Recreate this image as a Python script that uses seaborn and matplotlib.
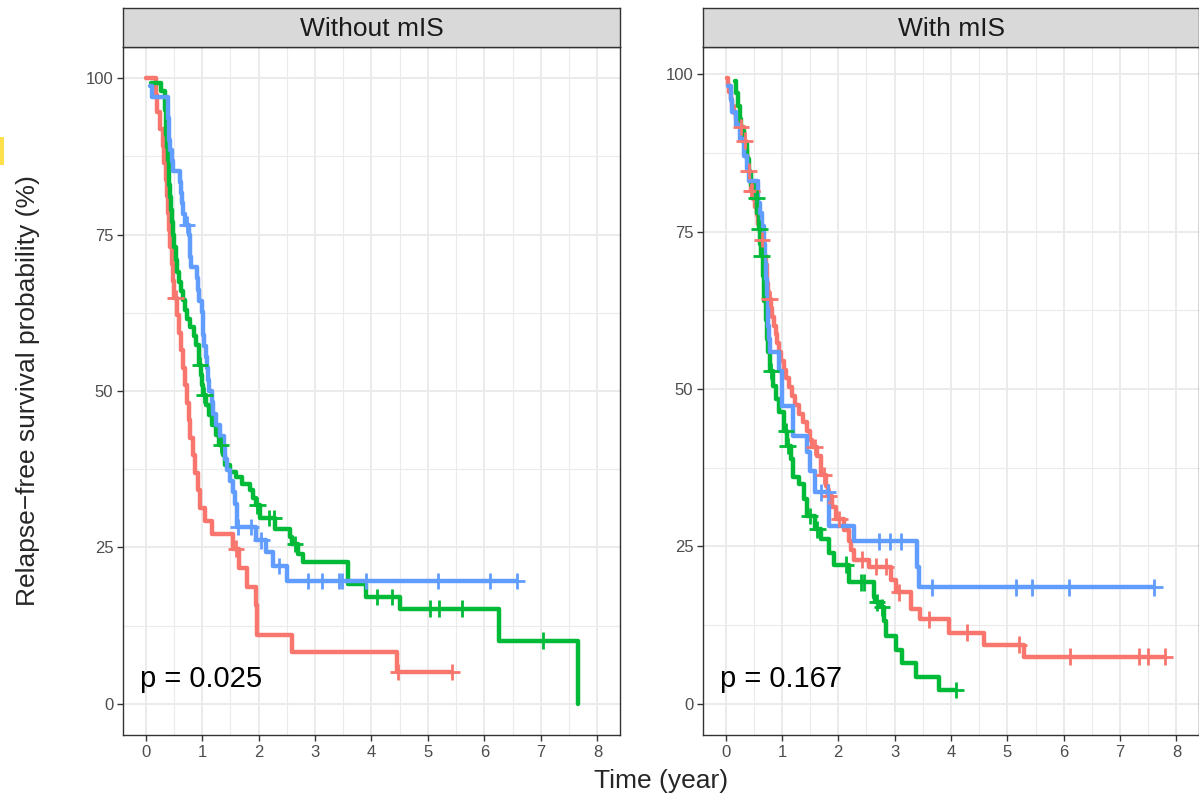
import numpy as np
import pandas as pd
import matplotlib
matplotlib.use("Agg")
import matplotlib.pyplot as plt
from matplotlib.patches import Rectangle
from matplotlib.ticker import MultipleLocator
import seaborn as sns

# ---------------------------------------------------------------
# Kaplan-Meier step data (time in years, survival in %)
# ---------------------------------------------------------------
groups = ["Group 1", "Group 2", "Group 3"]
colors = ["#F8766D", "#00BA38", "#619CFF"]
panel_titles = ["Without mIS", "With mIS"]
p_values = ["p = 0.025", "p = 0.167"]

# --- Without mIS ---
wo_g1_time = [0.00, 0.19, 0.21, 0.25, 0.30, 0.33, 0.36, 0.38, 0.40, 0.42, 0.44, 0.46, 0.48,
              0.50, 0.55, 0.59, 0.62, 0.66, 0.70, 0.73, 0.76, 0.79, 0.84, 0.88, 0.93, 0.97,
              1.05, 1.17, 1.54, 1.66, 1.80, 1.95, 1.98, 2.60, 4.45, 5.43]
wo_g1_surv = [100.0, 97.3, 94.6, 91.9, 89.2, 86.5, 83.8, 81.1, 78.4, 75.7, 73.0, 70.3, 67.6,
              64.9, 62.1, 59.3, 56.5, 53.7, 50.9, 48.1, 45.3, 42.5, 39.7, 36.9, 34.1, 31.3,
              29.2, 27.1, 24.8, 21.7, 18.6, 15.8, 11.0, 8.2, 5.1, 5.1]
wo_g1_cens = [0.53, 1.60, 4.47, 5.43]

wo_g2_time = [0.10, 0.28, 0.34, 0.35, 0.36, 0.37, 0.38, 0.40, 0.41, 0.42, 0.43, 0.45, 0.46,
              0.48, 0.50, 0.53, 0.56, 0.59, 0.62, 0.66, 0.70, 0.74, 0.79, 0.85, 0.89, 0.94,
              0.98, 1.00, 1.02, 1.07, 1.12, 1.18, 1.24, 1.30, 1.37, 1.40, 1.50, 1.60, 1.70,
              1.84, 1.90, 1.95, 2.02, 2.30, 2.55, 2.60, 2.70, 2.78, 3.58, 3.91, 4.50, 6.25,
              7.65]
wo_g2_surv = [99.2, 98.0, 97.0, 95.0, 93.0, 91.0, 89.0, 87.0, 85.0, 83.0, 81.0, 79.0, 77.0,
              75.0, 73.0, 71.0, 69.0, 67.5, 66.0, 64.5, 63.0, 61.5, 60.2, 58.8, 57.3, 54.2,
              52.6, 51.0, 49.4, 47.8, 46.2, 44.6, 43.0, 41.4, 39.8, 38.2, 37.0, 36.2, 35.2,
              34.1, 32.9, 31.7, 29.7, 27.9, 26.7, 25.5, 24.0, 22.6, 19.1, 17.1, 15.2, 10.1,
              0.0]
wo_g2_cens = [0.96, 1.04, 1.34, 1.98, 2.19, 2.27, 2.65, 4.10, 4.37, 5.03, 5.20, 5.61, 7.03]

wo_g3_time = [0.07, 0.11, 0.39, 0.40, 0.41, 0.42, 0.44, 0.46, 0.48, 0.61, 0.63, 0.65, 0.66,
              0.70, 0.77, 0.78, 0.79, 0.80, 0.91, 0.93, 0.95, 1.00, 1.01, 1.02, 1.03, 1.07,
              1.08, 1.10, 1.13, 1.17, 1.20, 1.25, 1.32, 1.38, 1.41, 1.45, 1.50, 1.55, 1.59,
              1.62, 1.96, 2.14, 2.25, 2.51, 6.57]
wo_g3_surv = [98.7, 97.0, 95.3, 93.6, 91.9, 90.2, 88.5, 86.8, 85.1, 83.4, 81.7, 80.0, 78.3,
              76.6, 74.9, 73.2, 71.5, 69.8, 68.0, 66.2, 64.4, 62.6, 60.8, 59.0, 57.2, 55.4,
              53.6, 51.8, 50.0, 48.2, 46.4, 44.6, 42.8, 41.0, 39.2, 37.4, 35.6, 33.8, 32.0,
              28.3, 26.1, 24.2, 22.0, 19.6, 19.6]
wo_g3_cens = [0.73, 1.64, 1.87, 2.05, 2.37, 2.87, 3.13, 3.42, 3.47, 3.91, 5.17, 6.09, 6.57]

# --- With mIS ---
w_g1_time = [0.02, 0.04, 0.06, 0.09, 0.12, 0.15, 0.19, 0.23, 0.32, 0.36, 0.38, 0.40, 0.43,
             0.45, 0.49, 0.52, 0.55, 0.58, 0.61, 0.63, 0.67, 0.69, 0.71, 0.73, 0.74, 0.76,
             0.77, 0.80, 0.83, 0.86, 0.89, 0.92, 0.95, 0.99, 1.03, 1.08, 1.13, 1.18, 1.24,
             1.31, 1.38, 1.45, 1.49, 1.53, 1.62, 1.70, 1.78, 1.81, 1.88, 1.96, 2.10, 2.19,
             2.23, 2.28, 2.55, 2.94, 3.02, 3.29, 3.45, 3.96, 4.58, 5.29, 7.80]
w_g1_surv = [99.4, 98.3, 97.2, 96.1, 95.0, 93.9, 92.8, 91.7, 89.5, 88.2, 86.9, 84.7, 83.5,
             81.5, 80.2, 78.9, 77.6, 76.3, 75.0, 73.7, 72.4, 71.1, 69.7, 68.3, 66.9, 65.5,
             64.3, 62.9, 61.5, 60.1, 58.7, 57.3, 55.9, 54.5, 53.1, 51.7, 50.3, 48.9, 47.5,
             46.1, 44.7, 43.3, 41.9, 40.8, 39.3, 36.3, 34.6, 33.0, 31.2, 29.4, 27.6, 25.9,
             24.4, 22.9, 21.8, 19.7, 17.7, 15.0, 13.4, 11.3, 9.4, 7.5, 7.5]
w_g1_cens = [0.27, 0.34, 0.41, 0.46, 0.47, 0.65, 0.78, 1.58, 1.75, 1.84, 2.02, 2.42, 2.67,
             2.85, 3.08, 3.61, 4.28, 5.20, 6.12, 7.33, 7.50, 7.80]

w_g2_time = [0.16, 0.19, 0.22, 0.25, 0.28, 0.33, 0.38, 0.42, 0.46, 0.52, 0.56, 0.59, 0.62,
             0.63, 0.67, 0.69, 0.71, 0.73, 0.75, 0.79, 0.85, 0.90, 0.95, 1.03, 1.09, 1.16,
             1.19, 1.31, 1.40, 1.45, 1.58, 1.70, 1.84, 1.93, 2.19, 2.64, 2.66, 2.75, 2.82,
             2.85, 3.03, 3.13, 3.38, 3.79, 4.09]
w_g2_surv = [98.9, 97.0, 95.0, 93.0, 91.0, 89.0, 86.6, 84.5, 82.5, 80.3, 78.0, 75.5, 73.0,
             71.2, 68.0, 64.0, 61.0, 58.0, 55.9, 52.9, 50.5, 48.4, 46.3, 43.3, 41.0, 38.9,
             36.0, 34.9, 32.5, 29.8, 27.7, 26.1, 24.0, 22.1, 19.3, 17.0, 16.1, 15.3, 13.1,
             10.7, 8.6, 6.5, 4.3, 2.2, 2.2]
w_g2_cens = [0.55, 0.60, 0.64, 0.81, 1.07, 1.10, 1.49, 1.63, 2.14, 2.40, 2.45, 2.69, 2.78,
             4.09]

w_g3_time = [0.05, 0.10, 0.12, 0.18, 0.26, 0.33, 0.38, 0.42, 0.57, 0.61, 0.65, 0.68, 0.70,
             0.72, 0.74, 0.75, 0.76, 0.77, 0.78, 0.95, 1.01, 1.19, 1.45, 1.50, 1.58, 1.84,
             2.28, 3.39, 3.43, 7.61]
w_g3_surv = [98.1, 96.0, 94.1, 92.0, 89.8, 87.1, 85.0, 83.1, 79.5, 78.0, 76.0, 73.0, 70.0,
             67.5, 65.0, 62.5, 60.0, 58.0, 55.9, 52.9, 47.3, 42.5, 40.0, 37.0, 33.6, 28.2,
             25.8, 21.8, 18.5, 18.5]
w_g3_cens = [1.70, 1.81, 2.73, 2.92, 3.11, 3.67, 5.15, 5.43, 6.09, 7.61]

panels = [
    [(wo_g1_time, wo_g1_surv, wo_g1_cens),
     (wo_g2_time, wo_g2_surv, wo_g2_cens),
     (wo_g3_time, wo_g3_surv, wo_g3_cens)],
    [(w_g1_time, w_g1_surv, w_g1_cens),
     (w_g2_time, w_g2_surv, w_g2_cens),
     (w_g3_time, w_g3_surv, w_g3_cens)],
]

# ---------------------------------------------------------------
# Styling
# ---------------------------------------------------------------
sns.set_theme(style="white")
plt.rcParams["font.family"] = ["Liberation Sans", "DejaVu Sans"]
plt.rcParams["axes.unicode_minus"] = True

fig = plt.figure(figsize=(11.99, 8.01), dpi=100)
W, H = 1199.0, 801.0

panel_px = [(123, 620), (703, 1199)]
top_px, bot_px = 47, 735
strip_top_px = 8
grid_col = "#EBEBEB"
border_col = "#333333"
text_col = "#4D4D4D"


def surv_at(times, survs, t):
    idx = np.searchsorted(np.asarray(times), t, side="right") - 1
    return float(np.asarray(survs)[max(idx, 0)])


for k, (curves, title, ptxt) in enumerate(zip(panels, panel_titles, p_values)):
    x0, x1 = panel_px[k]
    ax = fig.add_axes([x0 / W, 1 - bot_px / H, (x1 - x0) / W, (bot_px - top_px) / H])

    line_rows, cens_rows = [], []
    for g, (tt, ss, cc) in zip(groups, curves):
        for t, s in zip(tt, ss):
            line_rows.append({"time": t, "surv": s, "group": g})
        for c in cc:
            cens_rows.append({"time": c, "surv": surv_at(tt, ss, c), "group": g})
    lines = pd.DataFrame(line_rows)
    cens = pd.DataFrame(cens_rows)

    # grid first
    ax.set_axisbelow(True)
    ax.xaxis.set_major_locator(MultipleLocator(1))
    ax.xaxis.set_minor_locator(MultipleLocator(0.5))
    ax.yaxis.set_major_locator(MultipleLocator(25))
    ax.yaxis.set_minor_locator(MultipleLocator(12.5))
    ax.grid(which="major", color=grid_col, lw=1.4)
    ax.grid(which="minor", color=grid_col, lw=0.8)

    sns.lineplot(data=lines, x="time", y="surv", hue="group", hue_order=groups,
                 palette=colors, estimator=None, sort=False, drawstyle="steps-post",
                 lw=3.2, legend=False, ax=ax)
    sns.scatterplot(data=cens, x="time", y="surv", hue="group", hue_order=groups,
                    palette=colors, marker="+", s=140, linewidth=2.0, legend=False,
                    ax=ax, zorder=3)

    ymax = max(max(c[1]) for c in curves)
    pad = 0.05 * ymax
    ax.set_ylim(-pad, ymax + pad)
    ax.set_xlim(-0.4, 8.4)
    ax.set_xlabel("")
    ax.set_ylabel("")
    ax.set_xticks(range(0, 9))
    ax.set_yticks([0, 25, 50, 75, 100])
    ax.tick_params(axis="both", which="major", labelsize=12, labelcolor=text_col,
                   color=border_col, length=4, width=1, direction="out", pad=3,
                   bottom=True, left=True)
    ax.tick_params(which="minor", length=0)
    for sp in ax.spines.values():
        sp.set_color(border_col)
        sp.set_linewidth(1.0)

    ax.text(-0.1, 2.7, ptxt, fontsize=21, ha="left", va="baseline", color="black")

    # facet strip
    sax = fig.add_axes([x0 / W, 1 - top_px / H, (x1 - x0) / W, (top_px - strip_top_px) / H])
    sax.set_facecolor("#D9D9D9")
    sax.set_xticks([])
    sax.set_yticks([])
    for sp in sax.spines.values():
        sp.set_color(border_col)
        sp.set_linewidth(1.0)
    sax.text(0.5, 0.47, title, fontsize=19, ha="center", va="center",
             transform=sax.transAxes, color="#1A1A1A")

fig.text(661 / W, 1 - 781 / H, "Time (year)", fontsize=19, ha="center", va="center")
fig.text(28 / W, 1 - 391 / H, "Relapse\u2212free survival probability (%)", fontsize=19,
         ha="center", va="center", rotation=90)

fig.patches.append(Rectangle((0, 1 - 165 / H), 4 / W, 28 / H, transform=fig.transFigure,
                             facecolor="#FFE04A", edgecolor="none"))

fig.savefig("out.png", dpi=100)
